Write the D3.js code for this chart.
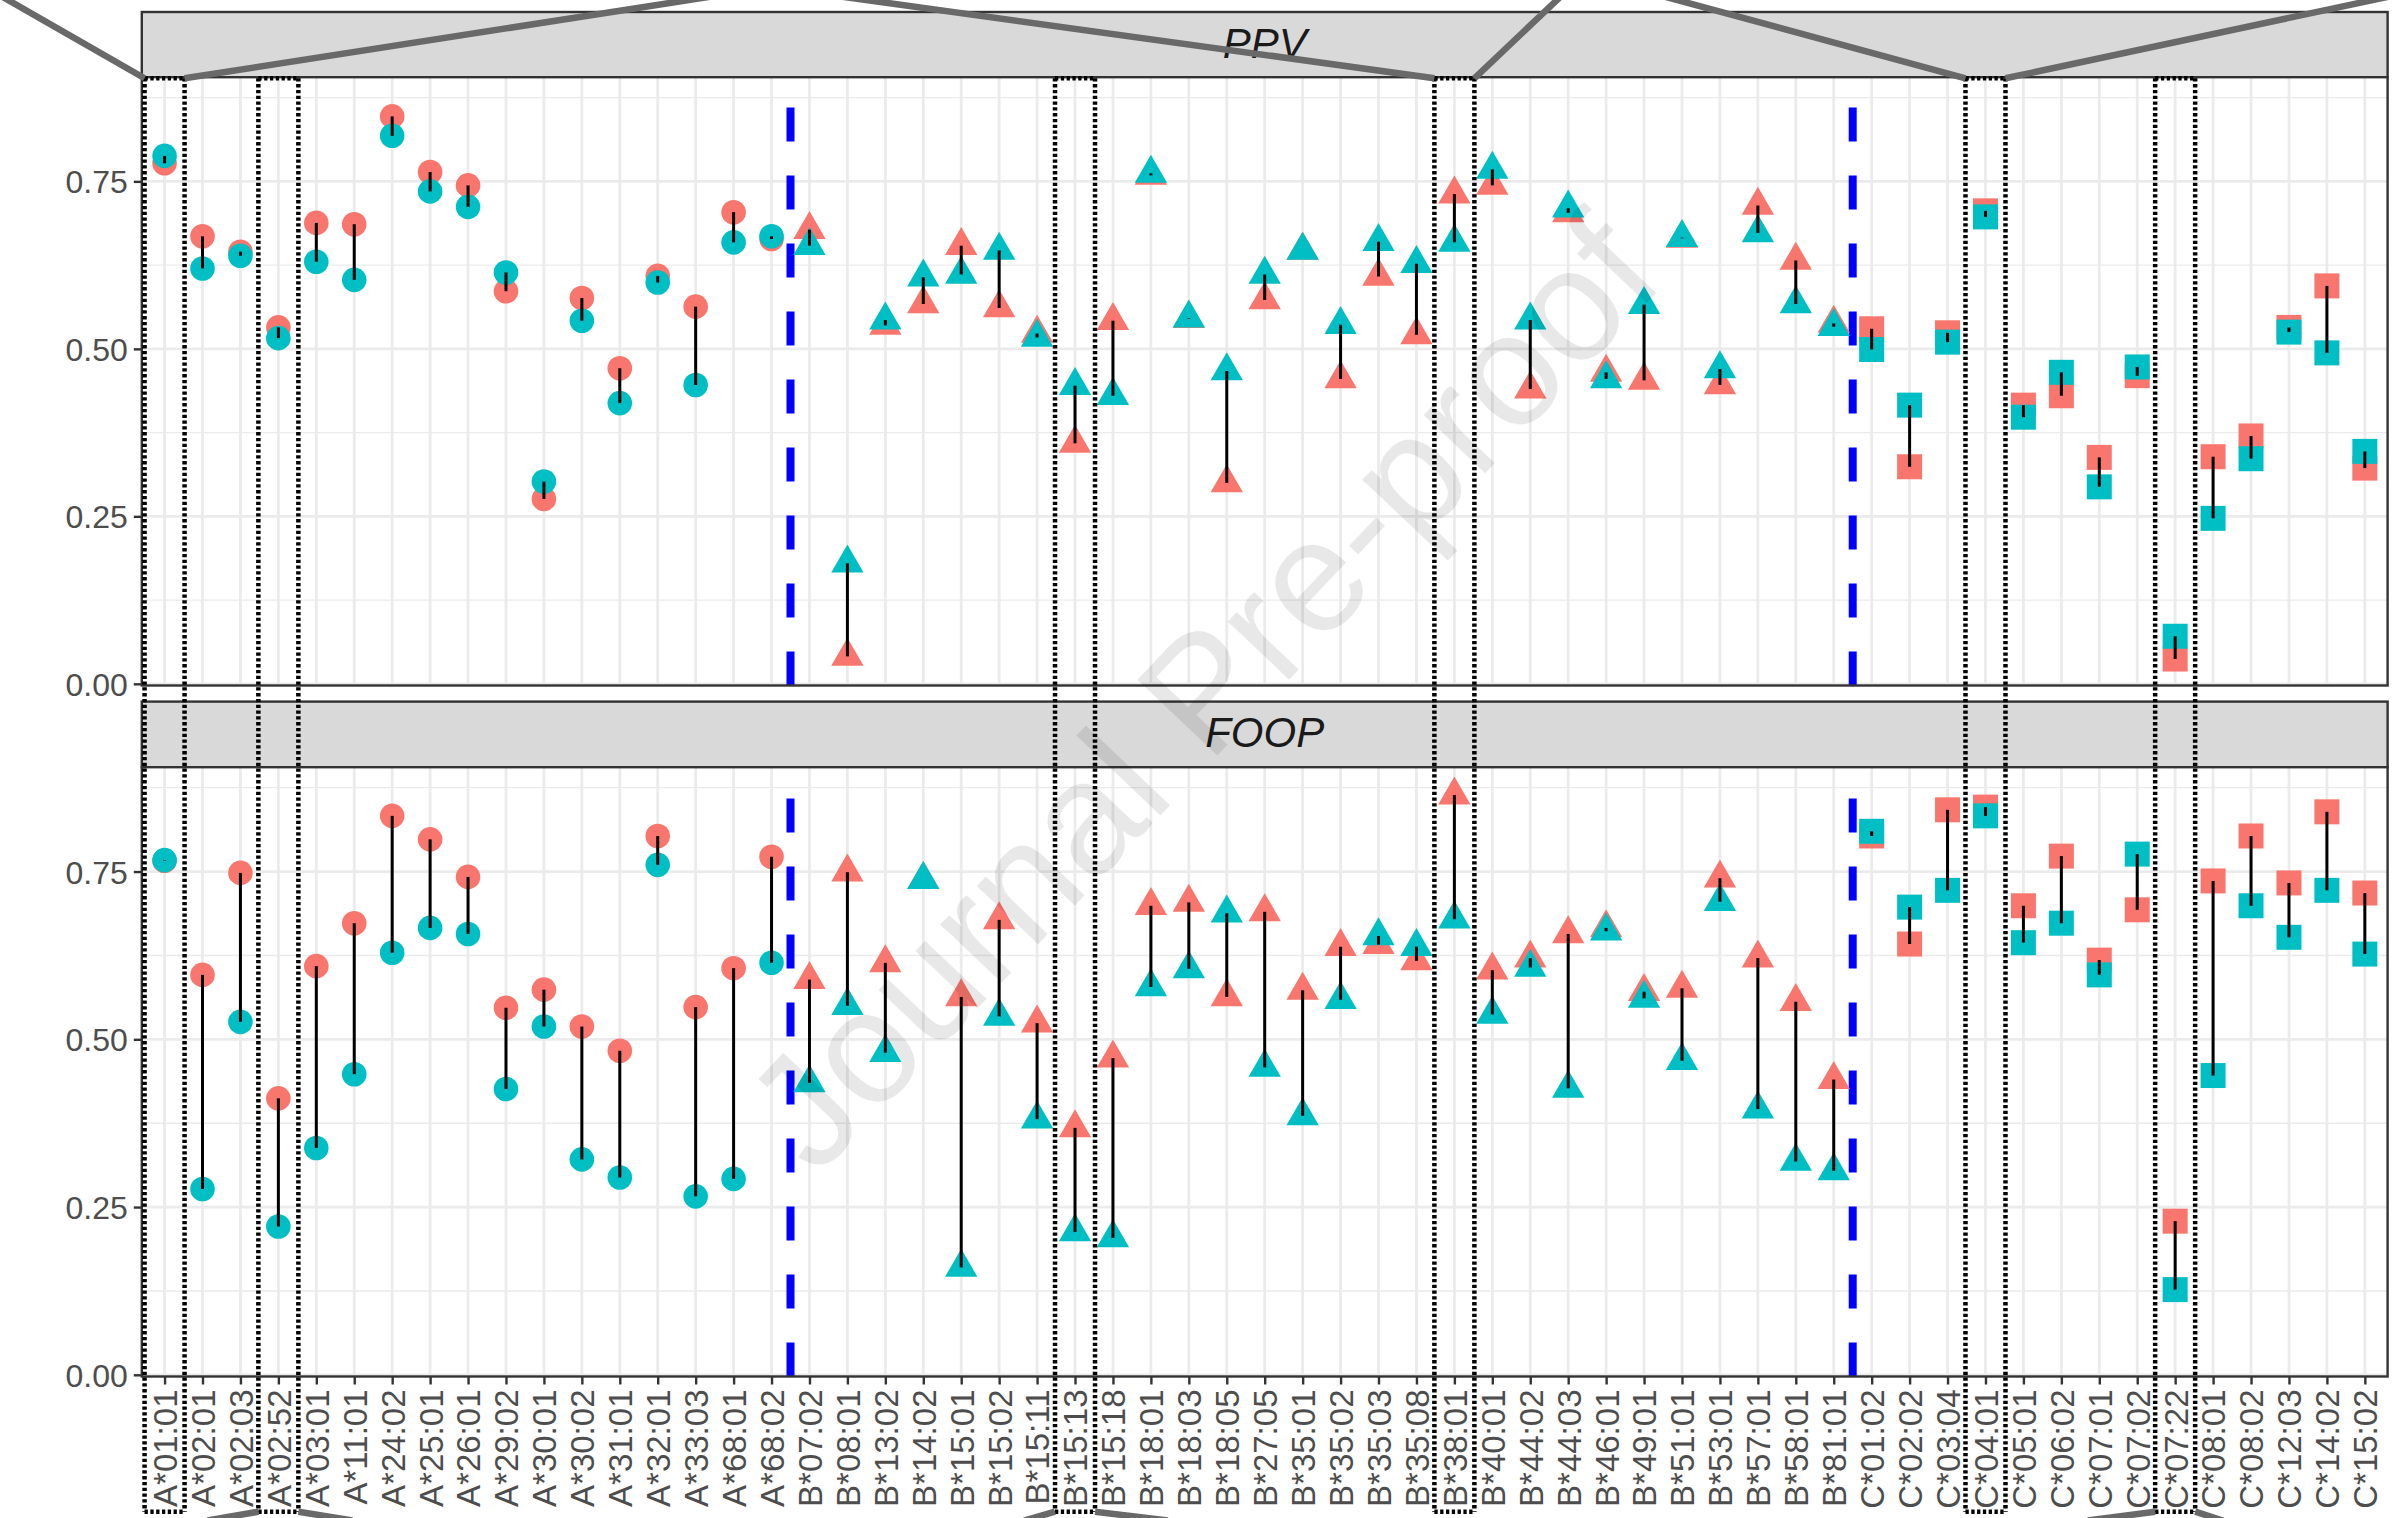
<!DOCTYPE html>
<html>
<head>
<meta charset="utf-8">
<script src="https://cdn.jsdelivr.net/npm/d3@7"></script>
<style>
  html, body { margin: 0; padding: 0; background: #ffffff; }
  svg { display: block; }
  text { font-family: "Liberation Sans", Arial, Helvetica, sans-serif; }
</style>
</head>
<body>
<svg id="chart" width="2406" height="1518"></svg>
<script>
// ---- data -------------------------------------------------------------
const categories = [
  "A*01:01","A*02:01","A*02:03","A*02:52","A*03:01","A*11:01","A*24:02","A*25:01","A*26:01",
  "A*29:02","A*30:01","A*30:02","A*31:01","A*32:01","A*33:03","A*68:01","A*68:02",
  "B*07:02","B*08:01","B*13:02","B*14:02","B*15:01","B*15:02","B*15:11","B*15:13","B*15:18",
  "B*18:01","B*18:03","B*18:05","B*27:05","B*35:01","B*35:02","B*35:03","B*35:08","B*38:01",
  "B*40:01","B*44:02","B*44:03","B*46:01","B*49:01","B*51:01","B*53:01","B*57:01","B*58:01","B*81:01",
  "C*01:02","C*02:02","C*03:04","C*04:01","C*05:01","C*06:02","C*07:01","C*07:02","C*07:22",
  "C*08:01","C*08:02","C*12:03","C*14:02","C*15:02"
];

const ppvRed = [
  0.777,0.668,0.645,0.532,0.688,0.686,0.847,0.764,0.744,0.586,0.276,0.576,0.471,0.609,0.563,0.704,0.664,
  0.678,0.041,0.535,0.567,0.654,0.561,0.523,0.359,0.542,0.759,0.545,0.300,0.573,0.647,0.455,0.608,0.521,0.731,
  0.744,0.440,0.703,0.465,0.453,0.665,0.446,0.714,0.632,0.538,
  0.530,0.324,0.524,0.706,0.416,0.430,0.338,0.460,0.037,0.339,0.370,0.532,0.594,0.322
];
const ppvTeal = [
  0.788,0.620,0.639,0.516,0.630,0.603,0.818,0.735,0.712,0.614,0.302,0.542,0.419,0.599,0.446,0.659,0.668,
  0.654,0.180,0.543,0.607,0.611,0.647,0.517,0.445,0.430,0.762,0.546,0.467,0.611,0.647,0.536,0.660,0.627,0.659,
  0.768,0.543,0.710,0.455,0.566,0.666,0.470,0.673,0.567,0.533,
  0.499,0.416,0.510,0.697,0.398,0.465,0.294,0.473,0.071,0.247,0.336,0.525,0.494,0.347
];
const foopRed = [
  0.766,0.596,0.748,0.412,0.609,0.673,0.833,0.798,0.742,0.547,0.574,0.519,0.483,0.803,0.548,0.606,0.772,
  0.589,0.749,0.614,0.738,0.563,0.678,0.524,0.368,0.472,0.699,0.704,0.563,0.690,0.573,0.638,0.641,0.617,0.864,
  0.603,0.621,0.657,0.666,0.571,0.576,0.740,0.621,0.556,0.440,
  0.803,0.642,0.842,0.846,0.699,0.773,0.618,0.693,0.229,0.736,0.803,0.733,0.839,0.718
];
const foopTeal = [
  0.767,0.277,0.526,0.221,0.338,0.448,0.629,0.666,0.657,0.426,0.519,0.321,0.294,0.760,0.266,0.292,0.614,
  0.435,0.550,0.480,0.738,0.160,0.534,0.381,0.213,0.204,0.578,0.605,0.688,0.458,0.386,0.559,0.654,0.638,0.679,
  0.537,0.607,0.427,0.661,0.561,0.468,0.705,0.396,0.318,0.304,
  0.810,0.697,0.722,0.833,0.644,0.673,0.596,0.776,0.127,0.446,0.699,0.652,0.722,0.627
];

const panelNames = ["PPV", "FOOP"];
const yMajor = [0, 0.25, 0.5, 0.75];
const yMinor = [0.125, 0.375, 0.625, 0.875];
const highlighted = ["A*01:01", "A*02:52", "B*15:13", "B*38:01", "C*04:01", "C*07:22"];
const locusBreaks = [["A*68:02", "B*07:02"], ["B*81:01", "C*01:02"]];
const watermarkText = "Journal Pre-proof";

// ---- layout -----------------------------------------------------------
const W = 2406, H = 1518;
const plotLeft = 141.8, plotRight = 2387.6;
const layout = [
  { stripTop: 12,    top: 77.2,  bottom: 685.5 },
  { stripTop: 701.6, top: 767.2, bottom: 1376.5 }
];
const yDomain = [-0.0025, 0.9055];
const COL_RED = "#F8766D", COL_TEAL = "#00BFC4";
const R = 12;                      // symbol radius
const boxTop = 78.3, boxBottom = 1511.7, boxHalf = 20;

// zoom connectors leaving the highlighted boxes (side: -1 left edge, +1 right edge)
const connectors = [
  { allele: "A*01:01", side: -1, edge: "top",    toX: 8 },
  { allele: "A*01:01", side:  1, edge: "top",    toX: 689 },
  { allele: "B*38:01", side: -1, edge: "top",    toX: 866 },
  { allele: "B*38:01", side:  1, edge: "top",    toX: 1557 },
  { allele: "C*04:01", side: -1, edge: "top",    toX: 1677 },
  { allele: "C*04:01", side:  1, edge: "top",    toX: 2373 },
  { allele: "A*02:52", side: -1, edge: "bottom", toX: 222 },
  { allele: "A*02:52", side:  1, edge: "bottom", toX: 337 },
  { allele: "B*15:13", side: -1, edge: "bottom", toX: 1033 },
  { allele: "B*15:13", side:  1, edge: "bottom", toX: 1147 },
  { allele: "C*07:22", side: -1, edge: "bottom", toX: 2107 },
  { allele: "C*07:22", side:  1, edge: "bottom", toX: 2215 }
];

const svg = d3.select("#chart");
svg.append("rect").attr("width", W).attr("height", H).attr("fill", "#fff");

const x = d3.scalePoint().domain(categories).range([plotLeft, plotRight]).padding(0.6);

// marker shape by locus: A circle, B triangle, C square
function shapePath(cat) {
  const locus = cat[0];
  if (locus === "A") {
    const r = 12.3;
    return `M${-r},0a${r},${r} 0 1,0 ${2 * r},0a${r},${r} 0 1,0 ${-2 * r},0Z`;
  }
  if (locus === "B") {
    return `M0,${-1.555 * R}L${1.347 * R},${0.778 * R}L${-1.347 * R},${0.778 * R}Z`;
  }
  const s = 12.5;
  return `M${-s},${-s}h${2 * s}v${2 * s}h${-2 * s}Z`;
}

const seriesByPanel = [
  { red: ppvRed, teal: ppvTeal },
  { red: foopRed, teal: foopTeal }
];

panelNames.forEach((name, pi) => {
  const L = layout[pi];
  const y = d3.scaleLinear().domain(yDomain).range([L.bottom, L.top]);
  const g = svg.append("g");

  // strip
  g.append("rect")
    .attr("x", plotLeft).attr("y", L.stripTop)
    .attr("width", plotRight - plotLeft).attr("height", L.top - L.stripTop)
    .attr("fill", "#d9d9d9").attr("stroke", "#333").attr("stroke-width", 2.4);
  g.append("text")
    .attr("x", (plotLeft + plotRight) / 2).attr("y", L.stripTop + 45.5)
    .attr("text-anchor", "middle").attr("font-size", 42).attr("font-style", "italic")
    .attr("fill", "#1a1a1a").text(name);

  // panel background + grid
  g.append("rect").attr("x", plotLeft).attr("y", L.top)
    .attr("width", plotRight - plotLeft).attr("height", L.bottom - L.top).attr("fill", "#fff");
  g.selectAll(".ymin").data(yMinor).join("line")
    .attr("x1", plotLeft).attr("x2", plotRight).attr("y1", d => y(d)).attr("y2", d => y(d))
    .attr("stroke", "#ebebeb").attr("stroke-width", 1.4);
  g.selectAll(".ymaj").data(yMajor).join("line")
    .attr("x1", plotLeft).attr("x2", plotRight).attr("y1", d => y(d)).attr("y2", d => y(d))
    .attr("stroke", "#ebebeb").attr("stroke-width", 2.8);
  g.selectAll(".xmaj").data(categories).join("line")
    .attr("x1", d => x(d)).attr("x2", d => x(d)).attr("y1", L.top).attr("y2", L.bottom)
    .attr("stroke", "#ebebeb").attr("stroke-width", 2.8);

  // dashed separators between loci
  g.selectAll(".sep").data(locusBreaks).join("line")
    .attr("x1", d => (x(d[0]) + x(d[1])) / 2).attr("x2", d => (x(d[0]) + x(d[1])) / 2)
    .attr("y1", L.bottom).attr("y2", L.top)
    .attr("stroke", "#0000ff").attr("stroke-width", 8).attr("stroke-dasharray", "34 34");

  const s = seriesByPanel[pi];
  // red first, teal drawn over it
  g.selectAll(".pr").data(categories).join("path")
    .attr("d", d => shapePath(d))
    .attr("transform", (d, i) => `translate(${x(d)},${y(s.red[i])})`)
    .attr("fill", COL_RED);
  g.selectAll(".pt").data(categories).join("path")
    .attr("d", d => shapePath(d))
    .attr("transform", (d, i) => `translate(${x(d)},${y(s.teal[i])})`)
    .attr("fill", COL_TEAL);
  // difference segments
  g.selectAll(".seg").data(categories).join("line")
    .attr("x1", d => x(d)).attr("x2", d => x(d))
    .attr("y1", (d, i) => y(s.red[i])).attr("y2", (d, i) => y(s.teal[i]))
    .attr("stroke", "#000").attr("stroke-width", 3);

  // panel border
  g.append("rect").attr("x", plotLeft).attr("y", L.top)
    .attr("width", plotRight - plotLeft).attr("height", L.bottom - L.top)
    .attr("fill", "none").attr("stroke", "#333").attr("stroke-width", 2.4);

  // y axis
  const ya = g.append("g").attr("transform", `translate(${plotLeft},0)`)
    .call(d3.axisLeft(y).tickValues(yMajor).tickFormat(d3.format(".2f")).tickSize(8).tickPadding(6));
  ya.select(".domain").remove();
  ya.selectAll(".tick line").attr("stroke", "#333").attr("stroke-width", 2.4);
  ya.selectAll(".tick text").attr("font-size", 32).attr("fill", "#4d4d4d")
    .attr("font-family", "'Liberation Sans', Arial, sans-serif").attr("dy", "0.36em");

  // x axis on bottom panel only
  if (pi === panelNames.length - 1) {
    const xa = g.append("g").attr("transform", `translate(0,${L.bottom})`)
      .call(d3.axisBottom(x).tickSize(8).tickPadding(5));
    xa.select(".domain").remove();
    xa.selectAll(".tick line").attr("stroke", "#333").attr("stroke-width", 2.4);
    xa.selectAll(".tick text")
      .attr("font-size", 33).attr("fill", "#4d4d4d")
      .attr("font-family", "'Liberation Sans', Arial, sans-serif")
      .attr("transform", "rotate(-90)")
      .attr("x", -13).attr("y", 0).attr("dy", "0.36em")
      .attr("text-anchor", "end");
  }
});

// dotted boxes around highlighted alleles
const boxes = svg.append("g");
highlighted.forEach(c => {
  const xl = x(c) - boxHalf, xr = x(c) + boxHalf;
  const segs = [
    [xl, boxTop, xl, boxBottom], [xr, boxTop, xr, boxBottom],
    [xl, boxTop, xr, boxTop], [xl, boxBottom, xr, boxBottom]
  ];
  boxes.selectAll(null).data(segs).join("line")
    .attr("x1", d => d[0]).attr("y1", d => d[1]).attr("x2", d => d[2]).attr("y2", d => d[3])
    .attr("stroke", "#000").attr("stroke-width", 4.5).attr("stroke-dasharray", "3.3 2.5");
});

// zoom connector lines
svg.append("g").selectAll("line").data(connectors).join("line")
  .each(function (d) {
    const x0 = x(d.allele) + d.side * boxHalf;
    const y0 = d.edge === "top" ? boxTop : boxBottom;
    const y1 = d.edge === "top" ? 0 : H;
    const k = 1.4;
    d3.select(this)
      .attr("x1", x0).attr("y1", y0)
      .attr("x2", x0 + k * (d.toX - x0)).attr("y2", y0 + k * (y1 - y0));
  })
  .attr("stroke", "#696969").attr("stroke-width", 6.5).attr("stroke-linecap", "butt");

// watermark
svg.append("text")
  .attr("transform", "translate(1200,690) rotate(-46.5)")
  .attr("text-anchor", "middle").attr("dy", "0.36em")
  .attr("font-size", 160).attr("fill", "#000").attr("fill-opacity", 0.09)
  .text(watermarkText);
</script>
</body>
</html>
